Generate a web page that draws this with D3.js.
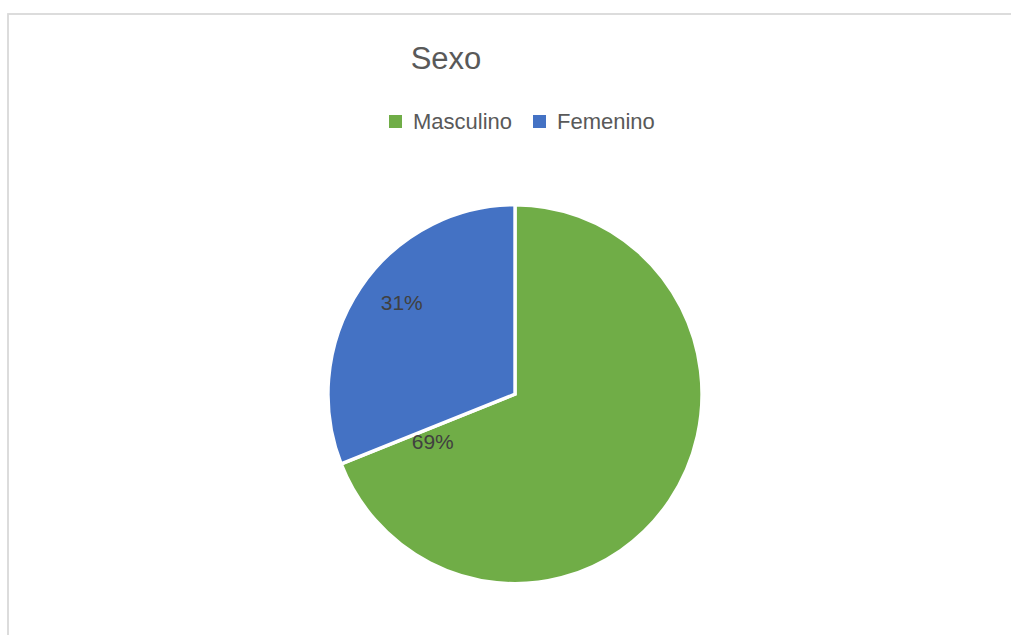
<!DOCTYPE html>
<html>
<head>
<meta charset="utf-8">
<script src="https://cdn.jsdelivr.net/npm/d3@7"></script>
<style>
    body { margin: 0; background: #fff; }
    svg { display: block; }
    text { font-family: "Liberation Sans", Arial, sans-serif; }
</style>
</head>
<body>
<div id="chart"></div>
<script>
// Data
const categories = ["Masculino", "Femenino"];
const values = [69, 31];
const colors = ["#70ad47", "#4472c4"];
const titleText = "Sexo";

const width = 1011, height = 635;

const svg = d3.select("#chart")
    .append("svg")
    .attr("width", width)
    .attr("height", height);

// Chart area border (cropped at right and bottom)
svg.append("rect")
    .attr("x", 8)
    .attr("y", 14)
    .attr("width", 1200)
    .attr("height", 1000)
    .attr("fill", "none")
    .attr("stroke", "#d9d9d9")
    .attr("stroke-width", 1.8);

// Title
svg.append("text")
    .attr("x", 446)
    .attr("y", 69)
    .attr("text-anchor", "middle")
    .attr("fill", "#595959")
    .style("font-size", "31px")
    .text(titleText);

// Legend
const legendX = [389, 533];
const legend = svg.selectAll(".legend")
    .data(categories)
    .enter().append("g")
    .attr("class", "legend")
    .attr("transform", (d, i) => `translate(${legendX[i]},115)`);

legend.append("rect")
    .attr("width", 13)
    .attr("height", 13)
    .attr("fill", (d, i) => colors[i]);

legend.append("text")
    .attr("x", 24)
    .attr("y", 14)
    .attr("fill", "#595959")
    .style("font-size", "22px")
    .text(d => d);

// Pie
const cx = 515, cy = 394.2;
const r = 187, ky = 189.5 / 187;

const pie = d3.pie().sort(null).value(d => d);
const arcs = pie(values);
const arc = d3.arc().innerRadius(0).outerRadius(r);

const g = svg.append("g")
    .attr("transform", `translate(${cx},${cy}) scale(1,${ky})`);

g.selectAll("path")
    .data(arcs)
    .enter().append("path")
    .attr("d", arc)
    .attr("fill", (d, i) => colors[i])
    .attr("stroke", "#fff")
    .attr("stroke-width", 3.4)
    .attr("stroke-linejoin", "miter");

// Data labels (best-fit style placement)
const labelAngle = [d => d.endAngle - 0.143, d => (d.startAngle + d.endAngle) / 2 + 0.075];
const labelRadius = [0.507, 0.774];

svg.selectAll(".label")
    .data(arcs)
    .enter().append("text")
    .attr("class", "label")
    .attr("x", (d, i) => cx + Math.sin(labelAngle[i](d)) * r * labelRadius[i])
    .attr("y", (d, i) => cy - Math.cos(labelAngle[i](d)) * r * labelRadius[i] * ky)
    .attr("dy", "0.36em")
    .attr("text-anchor", "middle")
    .attr("fill", "#404040")
    .style("font-size", "21px")
    .text(d => Math.round(d.value) + "%");
</script>
</body>
</html>
